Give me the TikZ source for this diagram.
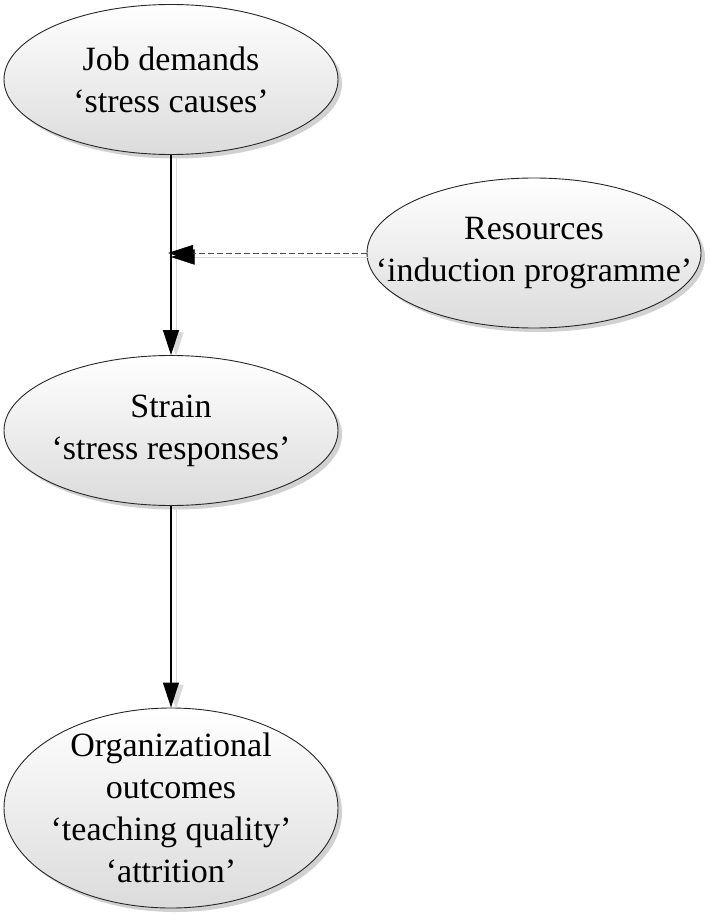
\documentclass[tikz,border=0pt]{standalone}
\usepackage{fontspec}
\setmainfont{Liberation Serif}
\usetikzlibrary{arrows.meta,positioning,shapes.geometric,shadows}

\begin{document}
\begin{tikzpicture}[
    x=1pt,y=-1pt,
    font=\fontsize{34}{42}\selectfont,
    >={Triangle[length=25pt,width=16pt]},
    factor/.style={ellipse,draw=black!85,line width=0.9pt,
      top color=white,bottom color=black!14,
      minimum width=334pt,minimum height=150pt,
      inner xsep=-50pt,inner ysep=-25pt,align=center,
      drop shadow={shadow xshift=4pt,shadow yshift=-4pt,fill=black!30,opacity=0.6}},
    flow/.style={->,line width=1.1pt,
      preaction={draw=black!15,transform canvas={xshift=5pt,yshift=-2pt}}},
    buffer/.style={-{Triangle[length=25pt,width=16pt,black]},line width=1pt,
      black!70,dash pattern=on 6pt off 3pt,
      preaction={draw=black!15,transform canvas={xshift=2pt,yshift=-4pt}}}
  ]
    \useasboundingbox (0,0) rectangle (709,917);

    % demand path on the left, resources on the right
    \node[factor] (demands) at (171,79.5)
      {Job demands\\‘stress causes’};
    \node[factor] (strain) at (171,430.5)
      {Strain\\‘stress responses’};
    \node[factor,minimum height=200pt] (outcomes) at (171,808)
      {Organizational\\outcomes\\‘teaching quality’\\‘attrition’};
    \node[factor] (resources) at (534,253)
      {Resources\\‘induction programme’};

    \coordinate (buffer) at (demands.south |- resources.west);

    \draw[flow] (demands.south) -- (strain.north);
    \draw[flow] (strain.south) -- (outcomes.north);
    \draw[buffer,shorten >=-3pt] (resources.west) -- (buffer);
  \end{tikzpicture}
\end{document}
